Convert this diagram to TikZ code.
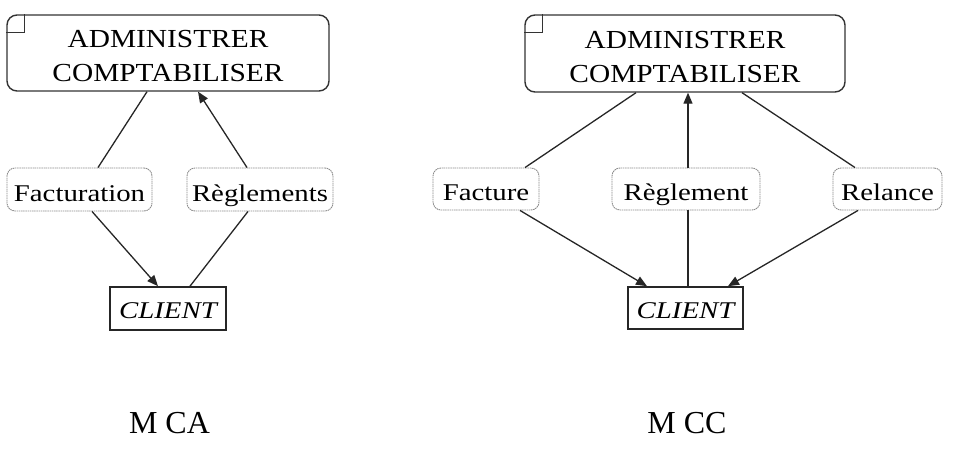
\documentclass[tikz,border=0pt]{standalone}
\usepackage{fontspec}
\setmainfont{Liberation Serif}
\newfontfamily\msgfont{Liberation Serif}[FakeStretch=1.2]
\newfontfamily\procfont{Liberation Serif}[FakeStretch=1.13]
\usetikzlibrary{arrows.meta,calc}
\begin{document}
\begin{tikzpicture}[x=1pt,y=-1pt,
 proc/.style={draw=black!80,line width=1.4pt,rounded corners=10pt,inner sep=0pt,align=center,
   font=\procfont\fontsize{26}{34}\selectfont,text height=58pt,text depth=0pt},
 msg/.style={draw=gray!90,line width=0.9pt,dash pattern=on 1.5pt off 0.7pt,rounded corners=8pt,inner sep=0pt,
   font=\msgfont\fontsize{24}{28}\selectfont,text height=24pt,text depth=0pt,minimum height=43pt},
 ent/.style={draw=black!85,line width=1.6pt,inner sep=0pt,
   font=\msgfont\itshape\fontsize{24}{28}\selectfont,text height=21pt,text depth=0pt,minimum height=43pt},
 conn/.style={line width=1.3pt,draw=black!85},
 arr/.style={conn,-{Triangle[length=11pt,width=9pt]}},
 cornermark/.style={line width=1pt,draw=black!80},
 lbl/.style={font=\fontsize{32}{38}\selectfont,anchor=base,inner sep=0pt}]
\useasboundingbox (0,0) rectangle (961,454);

% MCA
\node[proc,minimum width=322pt,minimum height=76pt] (P1) at (168,53) {ADMINISTRER\\COMPTABILISER};
\node[msg,minimum width=145pt] (F1) at (79.5,189.5) {Facturation};
\node[msg,minimum width=146pt] (R1) at (260,189.5) {Règlements};
\node[ent,minimum width=116pt] (C1) at (168,308.5) {CLIENT};
\draw[cornermark] ($(P1.north west)+(0,18)$) -| ($(P1.north west)+(18,0)$);

\draw[conn] ($(P1.south)+(-21,0)$) -- ($(F1.north)+(18.5,0)$);
\draw[arr] ($(R1.north)+(-13,0)$) -- ($(P1.south)+(30,0)$);
\draw[arr] ($(F1.south)+(12.5,0)$) -- ($(C1.north)+(-10,0)$);
\draw[conn] ($(C1.north)+(22,0)$) -- ($(R1.south)+(-12,0)$);

% MCC
\node[proc,minimum width=320pt,minimum height=77pt] (P2) at (685,53.5) {ADMINISTRER\\COMPTABILISER};
\node[msg,minimum width=106pt,minimum height=42pt] (Fa2) at (486,189) {Facture};
\node[msg,minimum width=148pt,minimum height=42pt] (Rg2) at (686,189) {Règlement};
\node[msg,minimum width=109pt,minimum height=42pt] (Re2) at (887.5,189) {Relance};
\node[ent,minimum width=115pt,minimum height=42pt] (C2) at (685.5,308) {CLIENT};
\draw[cornermark] ($(P2.north west)+(0,18)$) -| ($(P2.north west)+(18,0)$);

\draw[conn] ($(P2.south)+(-49,0)$) -- ($(Fa2.north)+(39,0)$);
\draw[arr] ($(Rg2.north)+(2,0)$) -- ($(P2.south)+(3,0)$);
\draw[conn] ($(P2.south)+(57,0)$) -- ($(Re2.north)+(-32.5,0)$);
\draw[arr] ($(Fa2.south)+(34,0)$) -- ($(C2.north)+(-38.5,0)$);
\draw[conn] ($(C2.north)+(2.5,0)$) -- ($(Rg2.south)+(2,0)$);
\draw[arr] ($(Re2.south)+(-29.5,0)$) -- ($(C2.north)+(42.5,0)$);

\node[lbl] (mca) at (169.5,433) {M CA};
\node[lbl] (mcc) at (687,433) {M CC};
\end{tikzpicture}
\end{document}
